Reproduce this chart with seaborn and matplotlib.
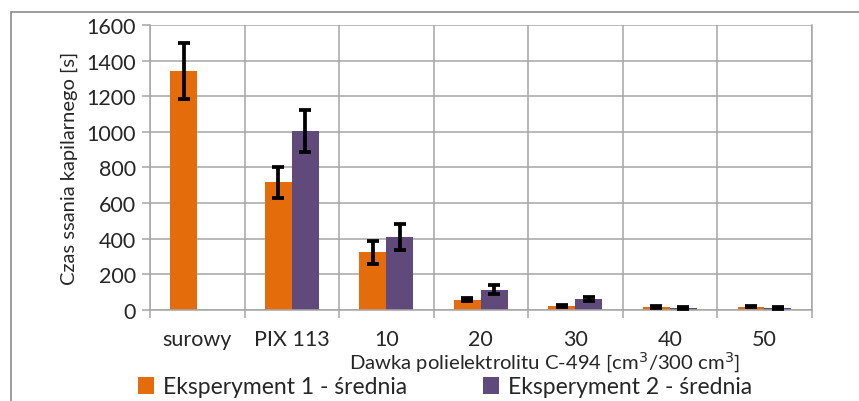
import numpy as np
import pandas as pd
import seaborn as sns
import matplotlib.pyplot as plt
from matplotlib.patches import Rectangle

# dane
categories = ["surowy", "PIX 113", "10", "20", "30", "40", "50"]
exp1_mean = [1343, 716, 324, 58, 21, 15, 19]
exp1_err = [158, 89, 63, 10, 5, 5, 5]
exp2_mean = [np.nan, 1003, 410, 114, 62, 13, 11]
exp2_err = [np.nan, 118, 71, 24, 12, 5, 5]
series_names = ["Eksperyment 1 - średnia", "Eksperyment 2 - średnia"]
yticks = [0, 200, 400, 600, 800, 1000, 1200, 1400, 1600]

df = pd.DataFrame({
    "dawka": categories * 2,
    "seria": [series_names[0]] * len(categories) + [series_names[1]] * len(categories),
    "czas": exp1_mean + exp2_mean,
    "err": exp1_err + exp2_err,
})

sns.set_style("white")
plt.rcParams["font.family"] = ["Lato", "DejaVu Sans"]

fig = plt.figure(figsize=(8.59, 4.02), dpi=100)
ax = fig.add_axes([0.1746, 0.2264, 0.945 - 0.1746, 0.9353 - 0.2264])

sns.barplot(data=df, x="dawka", y="czas", hue="seria", order=categories,
            hue_order=series_names, palette=["#E46C0A", "#604A7B"],
            width=0.57, errorbar=None, saturation=1, linewidth=0, ax=ax, zorder=2)

# słupki błędów - dopasowanie po pozycji słupka
for cont, s in zip(ax.containers, series_names):
    sub = df[df["seria"] == s].set_index("dawka")
    for bar in cont:
        xc = bar.get_x() + bar.get_width() / 2
        cat = categories[int(round(xc))]
        h = bar.get_height()
        e = sub.loc[cat, "err"]
        if np.isnan(h) or np.isnan(e):
            continue
        ax.errorbar(xc, h, yerr=e, color="black",
                    elinewidth=2.7, capsize=4.6, capthick=2.7, zorder=3)

ax.set_ylim(0, 1600)
ax.set_xlim(-0.5, len(categories) - 0.5)
ax.set_yticks(yticks)
ax.set_xticks(np.arange(len(categories) + 1) - 0.5, minor=True)
ax.set_xticks(np.arange(len(categories)))
ax.set_xticklabels(categories)
ax.grid(axis="y", color="#A6A6A6", linewidth=1.1, zorder=0)
ax.grid(axis="x", which="minor", color="#A6A6A6", linewidth=1.1, zorder=0)
ax.set_axisbelow(True)
for side in ["left", "bottom", "right", "top"]:
    ax.spines[side].set_color("#A6A6A6")
    ax.spines[side].set_linewidth(1.1)
ax.spines["top"].set_visible(False)
ax.tick_params(axis="y", which="major", length=6, color="#A6A6A6", width=1.1,
               labelsize=15.5, left=True, pad=4)
ax.tick_params(axis="x", which="major", length=0, labelsize=15.5, pad=14)
ax.tick_params(axis="x", which="minor", length=6, color="#A6A6A6", width=1.1, bottom=True)

ax.set_xlabel("")
ax.set_ylabel("Czas ssania kapilarnego [s]", fontsize=14.5, labelpad=6)
fig.text(545 / 859, 1 - 363 / 402, "Dawka polielektrolitu C-494 [cm$^3$/300 cm$^3$]",
         ha="center", va="center", fontsize=14.6)

handles, labels = ax.get_legend_handles_labels()
ax.get_legend().remove()
fig.legend(handles, labels, loc="center left", bbox_to_anchor=(138 / 859, 1 - 388 / 402),
           ncol=2, frameon=False, fontsize=16.5, handlelength=0.7, handleheight=0.7,
           handletextpad=0.4, columnspacing=3.3, borderaxespad=0, borderpad=0)

# ramka obszaru wykresu
fig.patches.append(Rectangle((11 / 859, -0.2), 1.2, 1.2 - 13 / 402, transform=fig.transFigure,
                             fill=False, edgecolor="#8C8C8C", linewidth=1.2))

fig.savefig("out.png", dpi=100)
